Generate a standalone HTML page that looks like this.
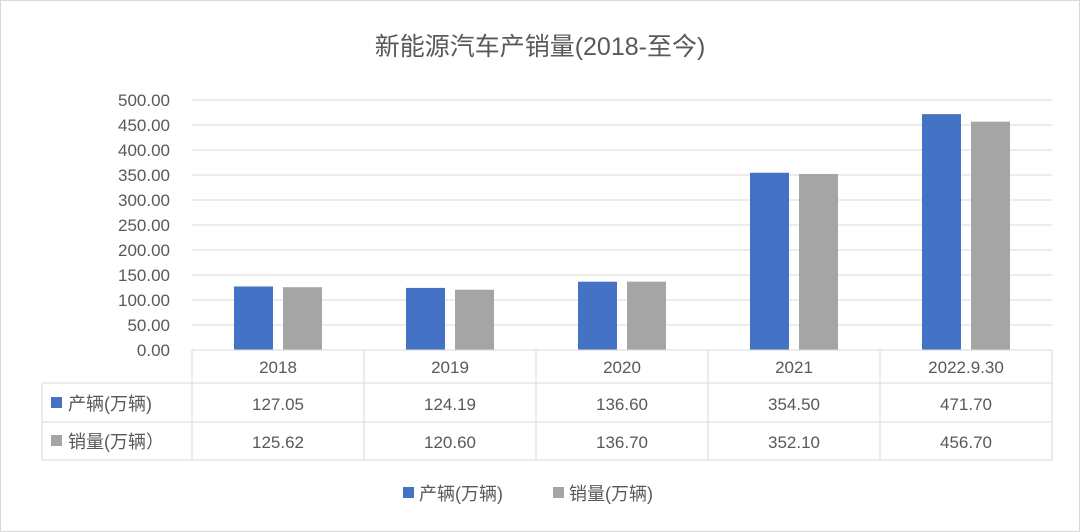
<!DOCTYPE html>
<html><head><meta charset="utf-8"><style>
body{margin:0;background:#fff}
svg{display:block;font-family:"Liberation Sans","Noto Sans CJK SC",sans-serif}
</style></head><body>
<svg id="c" width="1080" height="532" viewBox="0 0 1080 532">
<rect x="0.5" y="0.5" width="1079" height="531" fill="#fff" stroke="#d9d9d9"/>
<text x="540" y="55" text-anchor="middle" font-size="25" fill="#595959">新能源汽车产销量(2018-至今)</text>
<g id="grid"></g><g id="bars"></g><g id="table"></g>
<g>
<rect x="403" y="487" width="11" height="11" fill="#4472c4"/>
<text x="419" y="500" font-size="18" fill="#595959">产辆(万辆)</text>
<rect x="553" y="487" width="11" height="11" fill="#a5a5a5"/>
<text x="569" y="500" font-size="18" fill="#595959">销量(万辆)</text>
</g>
</svg>
<script>
const categories=["2018","2019","2020","2021","2022.9.30"];
const production=[127.05,124.19,136.60,354.50,471.70];
const sales=[125.62,120.60,136.70,352.10,456.70];
const ticks=[0,50,100,150,200,250,300,350,400,450,500];
const NS="http://www.w3.org/2000/svg";
const x0=192,x1=1052,yTop=100,yBot=350,maxV=500;
const cw=(x1-x0)/categories.length;
const y=v=>yBot-(v/maxV)*(yBot-yTop);
function mk(t,a,p){const e=document.createElementNS(NS,t);for(const k in a)e.setAttribute(k,a[k]);p.appendChild(e);return e;}
const grid=document.getElementById('grid'),bars=document.getElementById('bars'),tb=document.getElementById('table');
ticks.forEach(t=>{
 if(t>0){const l=mk('line',{x1:x0,x2:x1,y1:y(t),y2:y(t),stroke:'#d9d9d9'},grid);
 
 }
 const tx=mk('text',{x:170,y:y(t)+6,'text-anchor':'end','font-size':17,fill:'#595959'},grid);
 tx.textContent=t.toFixed(2);
 
 
});
categories.forEach((c,i)=>{
 const bx=x0+i*cw;
 const b1=mk('rect',{x:bx+42,y:y(production[i]),width:39,height:yBot-y(production[i]),fill:'#4472c4'},bars);
 
 
 const b2=mk('rect',{x:bx+91,y:y(sales[i]),width:39,height:yBot-y(sales[i]),fill:'#a5a5a5'},bars);
 
 
 const h=mk('text',{x:bx+cw/2,y:373,'text-anchor':'middle','font-size':17,fill:'#595959'},tb);
 h.textContent=c;
 
 
 const v1=mk('text',{x:bx+cw/2,y:410,'text-anchor':'middle','font-size':17,fill:'#595959'},tb);
 v1.textContent=production[i].toFixed(2);
 
 
 const v2=mk('text',{x:bx+cw/2,y:448,'text-anchor':'middle','font-size':17,fill:'#595959'},tb);
 v2.textContent=sales[i].toFixed(2);
 
 
});
// table lines
const L=[[x0,350,x1,350],[42,383,x1,383],[42,422,x1,422],[42,460,x1,460],[42,383,42,460]];
for(let i=0;i<=categories.length;i++)L.push([x0+i*cw,350,x0+i*cw,460]);
L.forEach(a=>{const l=mk('line',{x1:a[0],y1:a[1],x2:a[2],y2:a[3],stroke:'#d9d9d9'},tb);
 
 });
const s1=mk('rect',{x:51,y:397,width:11,height:11,fill:'#4472c4'},tb);


const r1=mk('text',{x:68,y:410,'font-size':18,fill:'#595959'},tb);r1.textContent='产辆(万辆)';


const s2=mk('rect',{x:51,y:435,width:11,height:11,fill:'#a5a5a5'},tb);


const r2=mk('text',{x:68,y:448,'font-size':18,fill:'#595959'},tb);r2.textContent='销量(万辆）';


</script>
</body></html>
